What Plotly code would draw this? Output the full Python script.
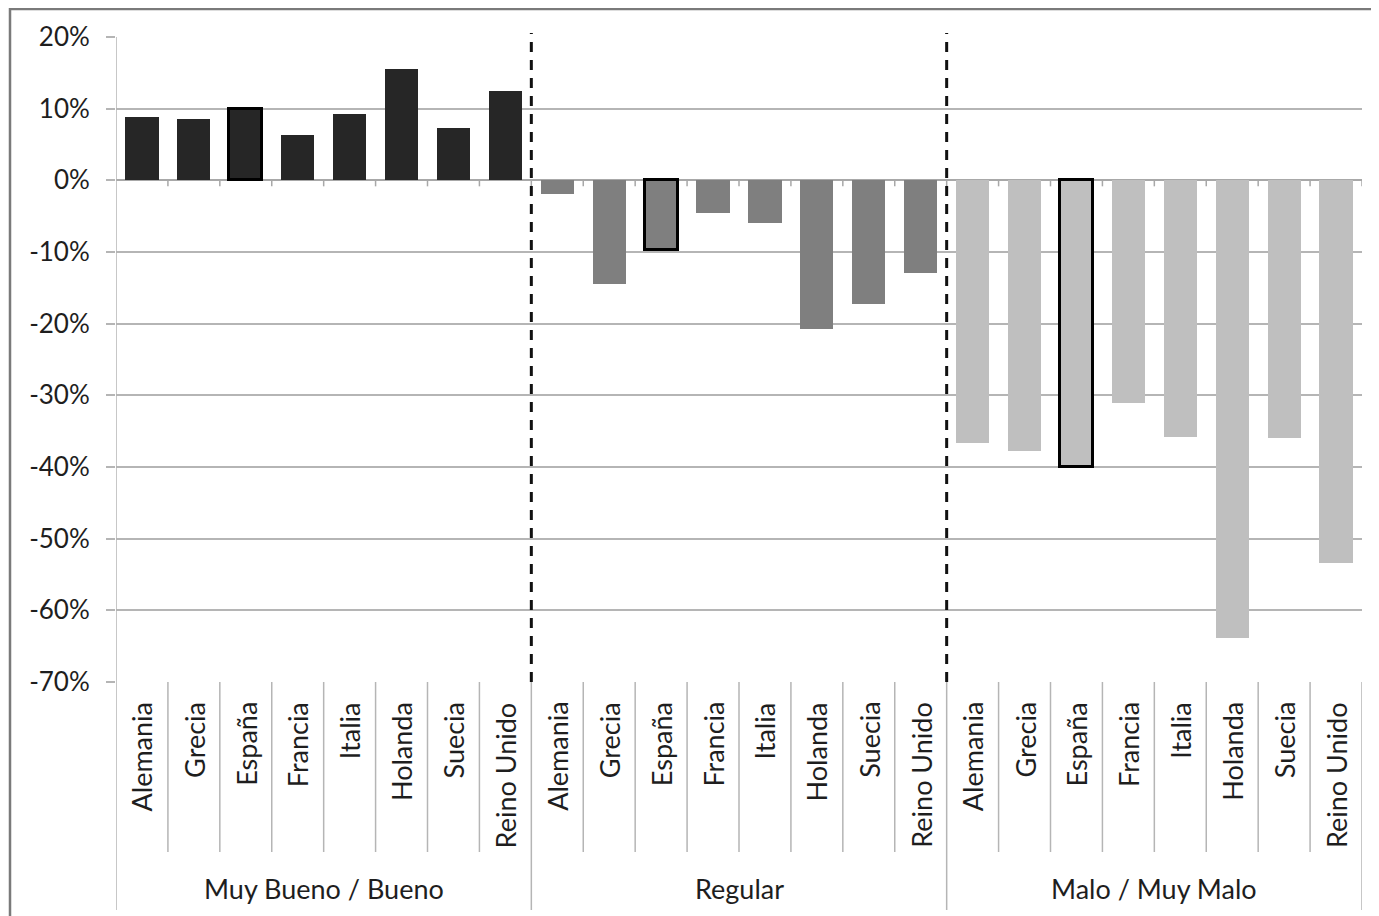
import plotly.graph_objects as go

# ---------------- data ----------------
countries = ["Alemania", "Grecia", "España", "Francia", "Italia", "Holanda", "Suecia", "Reino Unido"]
groups = ["Muy Bueno / Bueno", "Regular", "Malo / Muy Malo"]
values_bueno = [8.8, 8.5, 9.9, 6.3, 9.3, 15.5, 7.3, 12.4]
values_regular = [-1.9, -14.4, -9.7, -4.5, -6.0, -20.8, -17.2, -12.9]
values_malo = [-36.6, -37.8, -40.0, -31.0, -35.8, -63.9, -35.9, -53.4]
group_values = [values_bueno, values_regular, values_malo]
group_colors = ["#262626", "#7f7f7f", "#bfbfbf"]
highlight = "España"
y_ticks = [20, 10, 0, -10, -20, -30, -40, -50, -60, -70]
y_tick_labels = [f"{t}%" for t in y_ticks]

# ---------------- layout geometry ----------------
OFF = 8  # page body margin
W, H = 1379 - OFF, 916 - OFF
# target positions in page pixels
PL, PR, PT, PB = 116, 1362, 37, 682
L, R, T, B = PL - OFF, W - (PR - OFF), PT - OFF, H - (PB - OFF)
PW, PH = W - L - R, H - T - B

def px_x(p):
    return (p - OFF - L) / PW

def px_y(p):
    return (H - B - (p - OFF)) / PH

FONT = "Lato, 'Open Sans', sans-serif"
TXT = "#1e1e1e"
GRID = "#b5b5b5"

n = len(countries)
fig = go.Figure()

for g, (vals, col) in enumerate(zip(group_values, group_colors)):
    xs = [g * n + i + 0.5 for i in range(n)]
    lw = [3 if c == highlight else 0 for c in countries]
    fig.add_trace(go.Bar(
        x=xs, y=vals, width=0.64,
        marker=dict(color=col, line=dict(color="#000000", width=lw)),
        showlegend=False, hoverinfo="skip",
    ))

shapes = []
# outer frame
shapes.append(dict(type="rect", xref="paper", yref="paper", layer="below",
                   x0=px_x(10), x1=px_x(1395), y0=px_y(930), y1=px_y(9),
                   fillcolor="white", line=dict(color="#7a7a7a", width=2.5)))

total = n * len(groups)
# small tick marks under the zero line at category boundaries
for k in range(1, total + 1):
    shapes.append(dict(type="line", xref="x", yref="y", ysizemode="pixel", yanchor=0,
                       x0=k, x1=k, y0=0, y1=-6, line=dict(color="#a8a8a8", width=1.5)))
# category boundary lines below the plot
for k in range(0, total + 1):
    is_group = (k % n == 0)
    bottom = 910 if is_group else 852
    shapes.append(dict(type="line", xref="x", yref="paper",
                       x0=k, x1=k, y0=px_y(682 if k else 37), y1=px_y(bottom),
                       line=dict(color=GRID, width=1.5)))
# dashed separators between groups
for g in range(1, len(groups)):
    shapes.append(dict(type="line", xref="x", yref="paper",
                       x0=g * n, x1=g * n, y0=px_y(682), y1=px_y(33),
                       line=dict(color="#111111", width=3, dash="10px,8px")))

annotations = []
for g, gname in enumerate(groups):
    for i, c in enumerate(countries):
        annotations.append(dict(x=g * n + i + 0.5, y=px_y(700), xref="x", yref="paper",
                                text=c, textangle=-90, showarrow=False,
                                xanchor="center", yanchor="top",
                                font=dict(family=FONT, size=27, color=TXT)))
    annotations.append(dict(x=g * n + n / 2, y=px_y(888), xref="x", yref="paper",
                            text=gname, showarrow=False, xanchor="center", yanchor="middle",
                            font=dict(family=FONT, size=27, color=TXT)))

fig.update_layout(
    width=W, height=H,
    margin=dict(l=L, r=R, t=T, b=B, pad=0),
    paper_bgcolor="white", plot_bgcolor="rgba(0,0,0,0)",
    bargap=0,
    xaxis=dict(range=[0, total], showticklabels=False, showgrid=False, zeroline=False,
               showline=False, ticks="", fixedrange=True),
    yaxis=dict(range=[-70, 20], tickvals=y_ticks, ticktext=y_tick_labels,
               showgrid=True, gridcolor=GRID, gridwidth=1.5,
               zeroline=True, zerolinecolor="#a8a8a8", zerolinewidth=1.8,
               showline=False, ticks="outside", ticklen=9, tickcolor=GRID, tickwidth=1.5,
               ticklabelstandoff=11,
               tickfont=dict(family=FONT, size=26, color=TXT), fixedrange=True),
    shapes=shapes,
    annotations=annotations,
)

fig.write_html("out.html")
